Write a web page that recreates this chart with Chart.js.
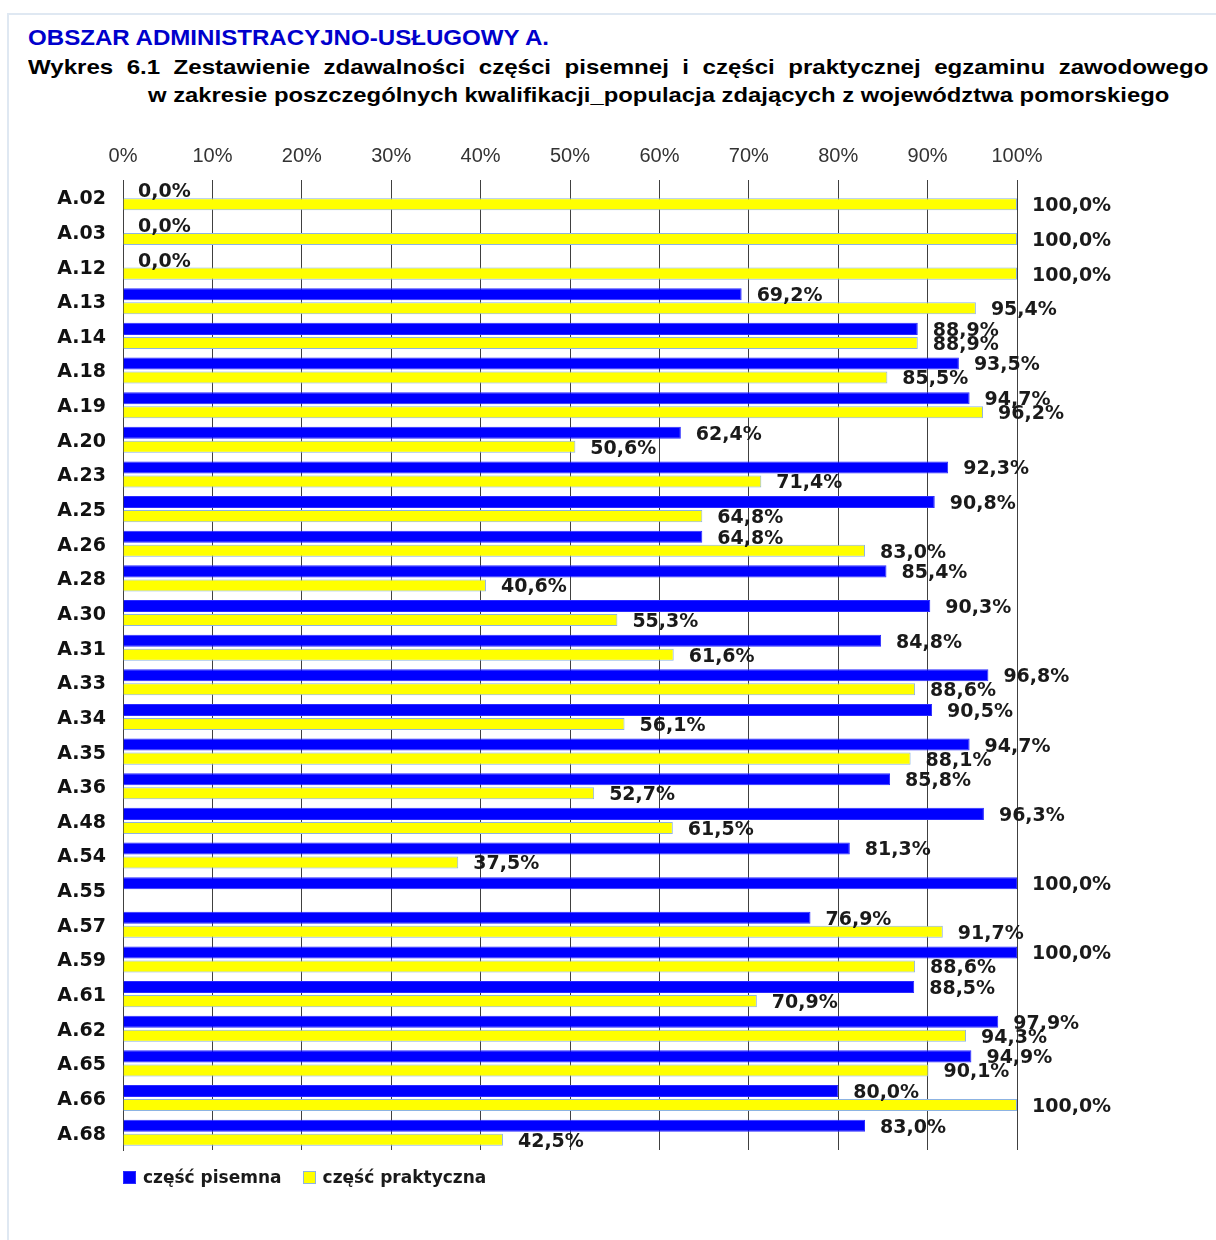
<!DOCTYPE html>
<html lang="pl">
<head>
<meta charset="utf-8">
<title>Wykres 6.1</title>
<script src="https://cdn.jsdelivr.net/npm/chart.js@4.4.1/dist/chart.umd.min.js"></script>
<style>
  html, body { margin: 0; padding: 0; background: #fff; }
  body { width: 1216px; height: 1240px; position: relative; overflow: hidden; }
  .frame { position: absolute; left: 7px; top: 13px; width: 1400px; height: 1400px; border: 2px solid #dfe8f2; }
  .t { position: absolute; font-family: "Liberation Sans", Arial, sans-serif; font-weight: bold; line-height: 24px; white-space: nowrap; transform-origin: left center; }
  #t1 { left: 28px; top: 26px; font-size: 22px; color: #0000cc; transform: scaleX(1.095); }
  #t2 { left: 28px; top: 55px; font-size: 21px; color: #000; width: 1030px; white-space: normal; text-align: justify; text-align-last: justify; transform: scaleX(1.146); }
  #t3 { left: 148px; top: 83px; font-size: 21px; color: #000; transform: scaleX(1.135); }
  #wrap { position: absolute; left: 0; top: 0; width: 1216px; height: 1240px; }
  #legend { position: absolute; left: 123px; top: 1167px; display: flex; font-family: "DejaVu Sans", Verdana, sans-serif; font-weight: bold; font-size: 17px; color: #1a1a1a; line-height: 20px; }
  #legend .item { display: flex; align-items: center; margin-right: 21px; }
  #legend .box { width: 11px; height: 11px; margin-right: 7px; }
</style>
</head>
<body>
<div class="frame"></div>
<div class="t" id="t1">OBSZAR ADMINISTRACYJNO-USŁUGOWY A.</div>
<div class="t" id="t2">Wykres 6.1 Zestawienie zdawalności części pisemnej i części praktycznej egzaminu zawodowego</div>
<div class="t" id="t3">w zakresie poszczególnych kwalifikacji_populacja zdających z województwa pomorskiego</div>
<div id="wrap"><canvas id="chart"></canvas></div>
<div id="legend"></div>

<script>
const kwalifikacje = ['A.02', 'A.03', 'A.12', 'A.13', 'A.14', 'A.18', 'A.19', 'A.20', 'A.23', 'A.25',
    'A.26', 'A.28', 'A.30', 'A.31', 'A.33', 'A.34', 'A.35', 'A.36', 'A.48', 'A.54',
    'A.55', 'A.57', 'A.59', 'A.61', 'A.62', 'A.65', 'A.66', 'A.68'];

const pisemna = [0.0, 0.0, 0.0, 69.2, 88.9, 93.5, 94.7, 62.4, 92.3, 90.8,
    64.8, 85.4, 90.3, 84.8, 96.8, 90.5, 94.7, 85.8, 96.3, 81.3,
    100.0, 76.9, 100.0, 88.5, 97.9, 94.9, 80.0, 83.0];

// A.55 has no practical part result
const praktyczna = [100.0, 100.0, 100.0, 95.4, 88.9, 85.5, 96.2, 50.6, 71.4, 64.8,
    83.0, 40.6, 55.3, 61.6, 88.6, 56.1, 88.1, 52.7, 61.5, 37.5,
    null, 91.7, 88.6, 70.9, 94.3, 90.1, 100.0, 42.5];

const xTicks = [0, 10, 20, 30, 40, 50, 60, 70, 80, 90, 100];

const datasets = [
    { label: 'część pisemna', data: pisemna, backgroundColor: '#0000ff', borderColor: '#2b2bff', borderWidth: 1 },
    { label: 'część praktyczna', data: praktyczna, backgroundColor: '#ffff00', borderColor: '#8db3e2', borderWidth: 1 }
];

// value labels to the right of each bar, e.g. "69,2%"
const valueLabels = {
    id: 'valueLabels',
    afterDatasetsDraw(chart) {
        const ctx = chart.ctx;
        ctx.save();
        ctx.font = 'bold 19px "DejaVu Sans", Verdana, sans-serif';
        ctx.fillStyle = '#1a1a1a';
        ctx.textAlign = 'left';
        ctx.textBaseline = 'middle';
        chart.data.datasets.forEach((ds, di) => {
            const meta = chart.getDatasetMeta(di);
            meta.data.forEach((bar, i) => {
                const v = ds.data[i];
                if (v === null || v === undefined) return;
                const txt = v.toFixed(1).replace('.', ',') + '%';
                ctx.fillText(txt, bar.x + 15, bar.y + 2);
            });
        });
        ctx.restore();
    }
};

const chart = new Chart(document.getElementById('chart'), {
    type: 'bar',
    data: { labels: kwalifikacje, datasets: datasets },
    options: {
        indexAxis: 'y',
        responsive: true,
        maintainAspectRatio: false,
        animation: false,
        layout: { padding: { left: 0, top: 140, right: 199, bottom: 90 } },
        categoryPercentage: 0.81,
        barPercentage: 0.857,
        plugins: {
            legend: { display: false },
            tooltip: { enabled: false }
        },
        scales: {
            x: {
                position: 'top',
                min: 0,
                max: 100,
                afterBuildTicks: (scale) => { scale.ticks = xTicks.map(v => ({ value: v })); },
                afterFit: (scale) => { scale.height = 40; },
                ticks: {
                    callback: (v) => v + '%',
                    font: { family: '"Liberation Sans", Arial, sans-serif', size: 20 },
                    color: '#333',
                    padding: 12,
                    maxRotation: 0
                },
                grid: { color: '#404040', lineWidth: 1, drawTicks: false },
                border: { display: false }
            },
            y: {
                afterFit: (scale) => { scale.width = 123; },
                ticks: {
                    font: { family: '"DejaVu Sans", Verdana, sans-serif', size: 19, weight: 'bold' },
                    color: '#111',
                    padding: 17,
                    labelOffset: 2
                },
                grid: { display: false, drawTicks: false },
                border: { display: true, color: '#404040', width: 1 }
            }
        }
    },
    plugins: [valueLabels]
});

// legend built from the datasets
const legendEl = document.getElementById('legend');
datasets.forEach(ds => {
    const item = document.createElement('div');
    item.className = 'item';
    const box = document.createElement('span');
    box.className = 'box';
    box.style.background = ds.backgroundColor;
    box.style.border = '1px solid ' + ds.borderColor;
    item.appendChild(box);
    item.appendChild(document.createTextNode(ds.label));
    legendEl.appendChild(item);
});
</script>
</body>
</html>
